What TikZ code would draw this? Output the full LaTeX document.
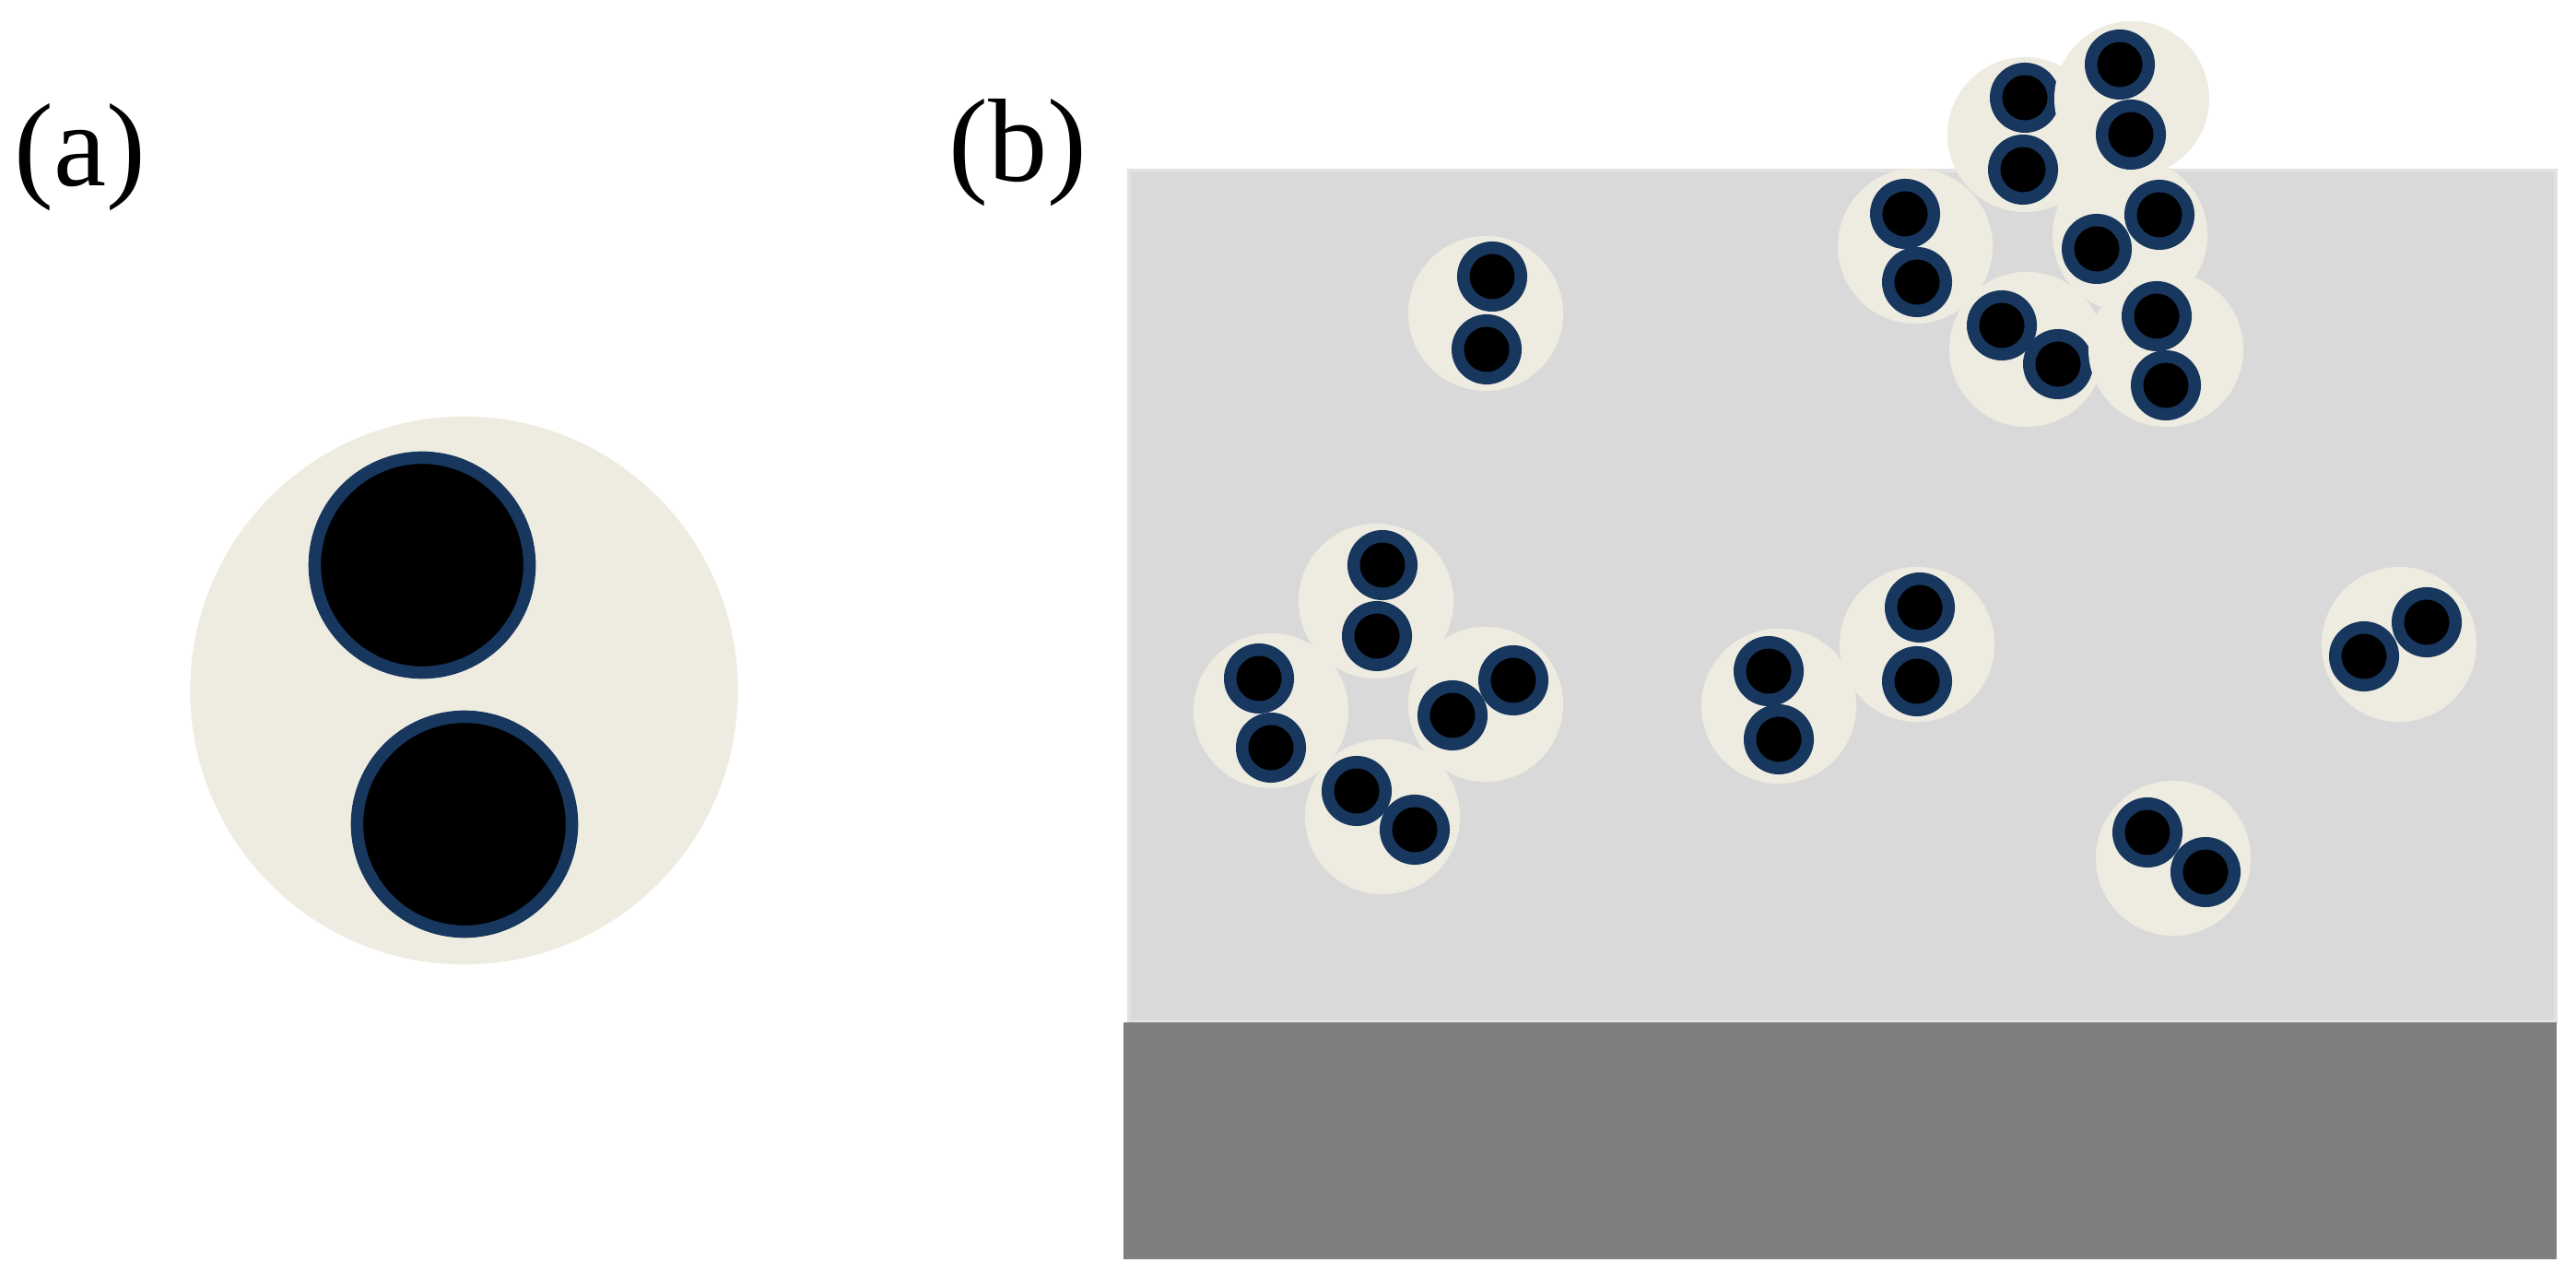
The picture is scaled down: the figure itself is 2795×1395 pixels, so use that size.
\documentclass[tikz,border=0pt]{standalone}
\usepackage{fontspec}
\setmainfont{Liberation Serif}
\usepackage{xcolor}
\definecolor{shellc}{HTML}{EEECE1}
\definecolor{ringc}{HTML}{17375E}
\definecolor{mediumc}{HTML}{D9D9D9}
\definecolor{mediumedge}{HTML}{E2E2E2}
\definecolor{wallc}{HTML}{7F7F7F}
\begin{document}
\begin{tikzpicture}
[
x=0.01cm, y=-0.01cm,
lab/.style={anchor=base west, inner sep=0pt, font=\fontsize{36.5}{40}\selectfont},
s/.style={circle, fill=shellc, inner sep=0pt, minimum size=1.68cm},
p/.style={circle, fill=black, draw=ringc, line width=0.135cm, inner sep=0pt, minimum size=0.625cm},
bigs/.style={s, minimum size=5.94cm},
bigp/.style={p, line width=0.135cm, minimum size=2.33cm}
]
\useasboundingbox (0,0) rectangle (2795,1395);

\node[lab] (la) at (15,201.5) {(a)};
\node[lab] (lb) at (1029,196.5) {(b)};

% panel (a)
\node[bigs] (as) at (503.5,749) {};
\node[bigp] (ap1) at (458,613) {};
\node[bigp] (ap2) at (504,894) {};

% panel (b)
\fill[mediumc, draw=mediumedge, line width=0.04cm] (1225,185) rectangle (2773,1108);
\fill[wallc] (1219,1109) rectangle (2774,1366);

\node[s] (s1) at (1612,340) {};
\node[p] (p1a) at (1619,300) {};
\node[p] (p1b) at (1613,379) {};

% upper group
\node[s] (s2) at (2078,267) {};
\node[p] (p2a) at (2067,232) {};
\node[p] (p2b) at (2080,306) {};
\node[s] (s3) at (2197,146) {};
\node[p] (p3a) at (2197,106) {};
\node[p] (p3b) at (2195,184) {};
\node[s] (s4) at (2311,255) {};
\node[p] (p4a) at (2275,270) {};
\node[p] (p4b) at (2343,233) {};
\node[s] (s5) at (2313,107) {};
\node[p] (p5a) at (2300,70) {};
\node[p] (p5b) at (2312,146) {};
\node[s] (s6) at (2199,379) {};
\node[p] (p6a) at (2172,353) {};
\node[p] (p6b) at (2233,395) {};
\node[s] (s7) at (2350,379) {};
\node[p] (p7a) at (2340,343) {};
\node[p] (p7b) at (2350,418) {};

% left group
\node[s] (s8) at (1379,771) {};
\node[p] (p8a) at (1366,736) {};
\node[p] (p8b) at (1379,811) {};
\node[s] (s9) at (1493,652) {};
\node[p] (p9a) at (1500,613) {};
\node[p] (p9b) at (1494,690) {};
\node[s] (s10) at (1612,764) {};
\node[p] (p10a) at (1576,776) {};
\node[p] (p10b) at (1642,738) {};
\node[s] (s11) at (1500,886) {};
\node[p] (p11a) at (1472,858) {};
\node[p] (p11b) at (1535,900) {};

% middle pair
\node[s] (s12) at (1930,766) {};
\node[p] (p12a) at (1919,728) {};
\node[p] (p12b) at (1930,802) {};
\node[s] (s13) at (2080,699) {};
\node[p] (p13a) at (2083,659) {};
\node[p] (p13b) at (2080,739) {};

% right side
\node[s] (s14) at (2603,699) {};
\node[p] (p14a) at (2565,712) {};
\node[p] (p14b) at (2633,675) {};
\node[s] (s15) at (2358,931) {};
\node[p] (p15a) at (2330,903) {};
\node[p] (p15b) at (2393,946) {};
\end{tikzpicture}
\end{document}
